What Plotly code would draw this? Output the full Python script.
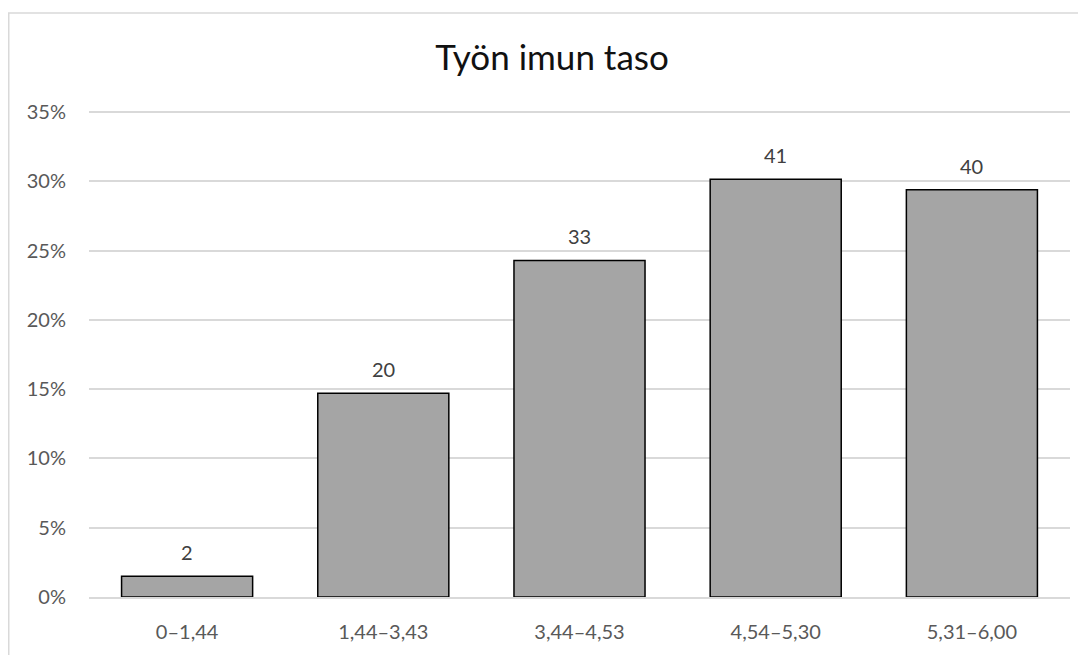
import plotly.graph_objects as go

categories = ["0–1,44", "1,44–3,43", "3,44–4,53", "4,54–5,30", "5,31–6,00"]
counts = [2, 20, 33, 41, 40]
percent = [1.5, 14.7, 24.3, 30.15, 29.4]
y_ticks = [0, 5, 10, 15, 20, 25, 30, 35]
tick_labels = [f"{t}%" for t in y_ticks]
title_text = "Työn imun taso"

FONT = "Lato"
W, H = 1078, 647          # page body has an 8px margin
Y_MAX = 35.3
L, R, B = 81, 16, 56
PH = round(487 * Y_MAX / 35)
T = H - B - PH
PW = W - L - R

fig = go.Figure()
fig.add_trace(go.Bar(
    x=categories, y=percent,
    marker=dict(color="#a5a5a5", line=dict(color="#000000", width=1.5)),
    hoverinfo="skip",
))

for c, p, n in zip(categories, percent, counts):
    fig.add_annotation(x=c, y=p, text=str(n), showarrow=False,
                       yanchor="bottom", yshift=10,
                       font=dict(family=FONT, size=20, color="#404040"))

fig.add_shape(type="rect", xref="paper", yref="paper",
              x0=(0.75 - L) / PW, x1=(W + 20 - L) / PW,
              y0=-(B + 20) / PH, y1=1 + (T - 4.5) / PH,
              line=dict(color="#d9d9d9", width=1.5), fillcolor="rgba(0,0,0,0)",
              layer="below")

fig.update_layout(
    width=W, height=H,
    margin=dict(l=L, r=R, t=T, b=B),
    paper_bgcolor="white", plot_bgcolor="white",
    bargap=0.332,
    showlegend=False,
    title=dict(text=title_text, x=544 / W, xanchor="center",
               y=1 - 50 / H, yanchor="middle",
               font=dict(family=FONT, size=35, color="#111111")),
    xaxis=dict(showline=True, linecolor="#d9d9d9", linewidth=1.5,
               ticks="outside", ticklen=16, tickcolor="rgba(0,0,0,0)",
               tickfont=dict(family=FONT, size=20, color="#595959")),
    yaxis=dict(range=[0, Y_MAX], tickvals=y_ticks, ticktext=tick_labels,
               showgrid=True, gridcolor="#d9d9d9", gridwidth=1.5,
               zeroline=False, showline=False,
               ticks="outside", ticklen=18, tickcolor="rgba(0,0,0,0)",
               tickfont=dict(family=FONT, size=20, color="#595959")),
)

fig.write_html("out.html")
